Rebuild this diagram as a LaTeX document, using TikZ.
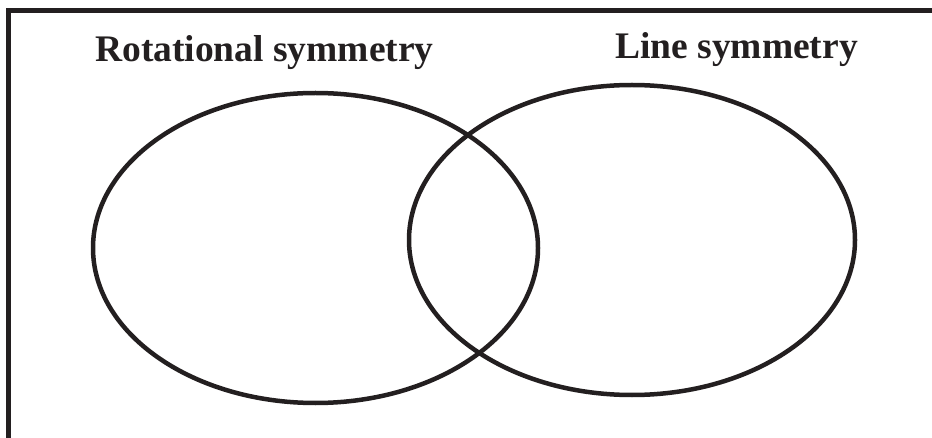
\documentclass[tikz,border=0pt]{standalone}
\usepackage{fontspec}
\setmainfont{Liberation Serif}
\definecolor{ink}{HTML}{231F20}
\begin{document}
\begin{tikzpicture}[x=1pt,y=1pt,
  frameline/.style={draw=ink,line width=5pt,line join=miter},
  setline/.style={draw=ink,line width=4.5pt},
  setlabel/.style={anchor=base west,inner sep=0pt,text=ink,font=\fontsize{37.5}{41}\selectfont\bfseries}]
  \useasboundingbox (0,0) rectangle (932,-438);
  % open frame: left and top sides only
  \coordinate (fbl) at (8.5,-440);
  \coordinate (ftl) at (8.5,-10.5);
  \coordinate (ftr) at (934,-10.5);
  \draw[frameline] (fbl) -- (ftl) -- (ftr);
  % the two sets
  \coordinate (rotc) at (315.5,-248);
  \coordinate (linc) at (632,-240);
  \draw[setline] (rotc) ellipse [x radius=222.5, y radius=155];
  \draw[setline] (linc) ellipse [x radius=223, y radius=155];
  % set labels
  \node[setlabel] (rotlabel) at (95,-62) {Rotational symmetry};
  \node[setlabel] (linlabel) at (615,-59) {Line symmetry};
\end{tikzpicture}
\end{document}
